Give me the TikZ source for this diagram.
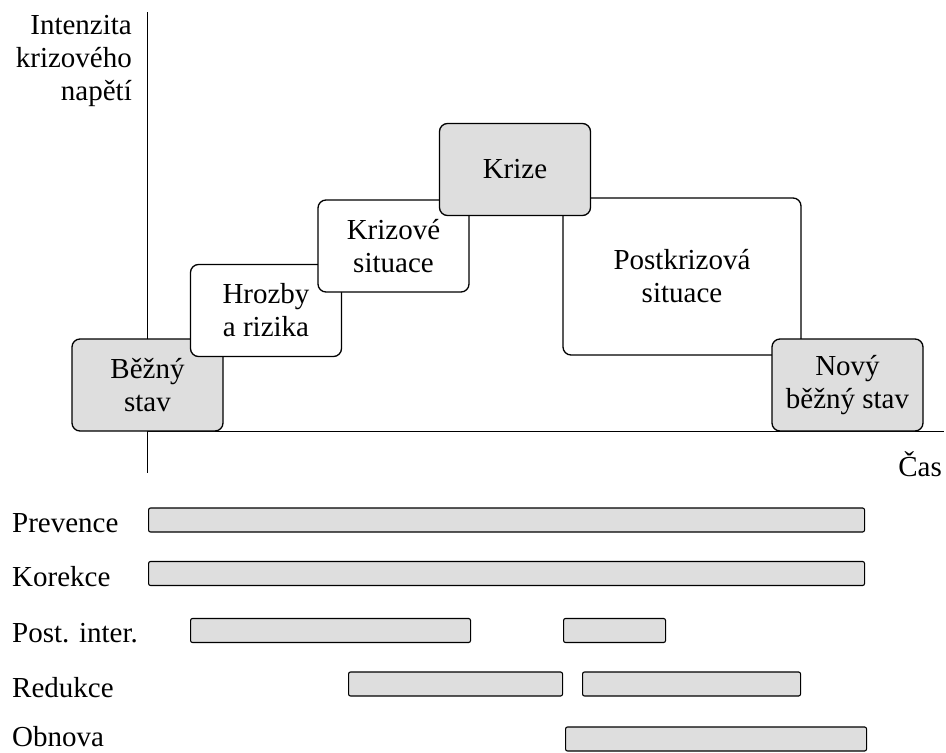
\documentclass[tikz,border=0pt]{standalone}
\usepackage{fontspec}
\setmainfont{Liberation Serif}
\definecolor{boxgray}{gray}{0.87}
\tikzset{
  phase/.style={draw, rounded corners=8pt, line width=1.3pt, inner sep=0pt, align=center,
    minimum width=151pt, minimum height=92pt, font=\fontsize{29}{33}\selectfont},
  calm/.style={phase, fill=boxgray},
  tense/.style={phase, fill=white},
  bar/.style={draw, fill=boxgray, rounded corners=2pt, line width=1.1pt, inner sep=0pt,
    minimum height=24pt, anchor=west},
  lbl/.style={font=\fontsize{29}{33}\selectfont, inner sep=0pt}
}
\begin{document}
\begin{tikzpicture}[x=1pt, y=-1pt]
  \useasboundingbox (0,0) rectangle (946,753);

  % axes
  \coordinate (ytop) at (147,12);
  \coordinate (ybot) at (147,473);
  \coordinate (xleft) at (147,431);
  \coordinate (xright) at (944,431);
  \draw[line width=1pt] (ytop) -- (ybot);
  \draw[line width=1pt] (xleft) -- (xright);
  \node[lbl, anchor=north east, align=right] (osay) at (132,15) {Intenzita\\krizového\\napětí};
  \node[lbl, anchor=base east] (osax) at (942,476) {Čas};

  % phases
  \node[calm] (bezny) at (147.5,385) {Běžný\\stav};
  \node[tense] (hrozby) at (266,310.5) {Hrozby\\a rizika};
  \node[tense] (krizsit) at (393.5,246) {Krizové\\situace};
  \node[tense, minimum width=238pt, minimum height=157pt] (postkriz) at (682,276.5) {Postkrizová\\situace};
  \node[calm] (krize) at (515,169.5) {Krize};
  \node[calm] (novy) at (847.5,385) {Nový\\běžný stav};

  % activities
  \node[lbl, anchor=base west] (prevence) at (12,532) {Prevence};
  \node[bar, minimum width=716pt] (prevbar) at (148,520) {};
  \node[lbl, anchor=base west] (korekce) at (12,586) {Korekce};
  \node[bar, minimum width=716pt] (korbar) at (148,573.5) {};
  \node[lbl, anchor=base west] (postint) at (12,642) {Post. inter.};
  \node[bar, minimum width=280pt] (postbara) at (190,630.5) {};
  \node[bar, minimum width=102pt] (postbarb) at (563,630.5) {};
  \node[lbl, anchor=base west] (redukce) at (12,697) {Redukce};
  \node[bar, minimum width=214pt] (redbara) at (348,684) {};
  \node[bar, minimum width=218pt] (redbarb) at (582,684) {};
  \node[lbl, anchor=base west] (obnova) at (12,746) {Obnova};
  \node[bar, minimum width=301pt] (obnbar) at (565,739) {};
\end{tikzpicture}
\end{document}
